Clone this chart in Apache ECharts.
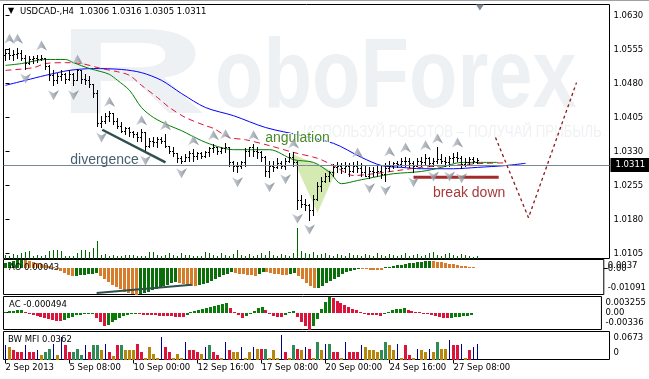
<!DOCTYPE html>
<html><head><meta charset="utf-8">
<script src="https://cdn.jsdelivr.net/npm/echarts@6/dist/echarts.min.js"></script>
<style>html,body{margin:0;padding:0;background:#fff;}#c{width:649px;height:379px;}</style>
</head><body><div id="c"></div>
<script>
// ---------- data ----------
const barOpen = [
1.0542,1.0548,1.0542,1.0546,1.0548,1.0537,1.0526,1.0535,1.0537,1.0535,
1.0537,1.0518,1.0498,1.0487,1.0496,1.0500,1.0491,1.0502,1.0487,1.0509,
1.0491,1.0487,1.0478,1.0460,1.0394,1.0398,1.0409,1.0414,1.0398,1.0387,
1.0376,1.0381,1.0374,1.0368,1.0363,1.0374,1.0343,1.0354,1.0350,1.0357,
1.0354,1.0343,1.0332,1.0326,1.0315,1.0310,1.0319,1.0326,1.0321,1.0326,
1.0321,1.0328,1.0337,1.0339,1.0332,1.0337,1.0341,1.0306,1.0299,1.0297,
1.0306,1.0332,1.0339,1.0332,1.0328,1.0317,1.0288,1.0299,1.0295,1.0304,
1.0299,1.0310,1.0317,1.0306,1.0222,1.0215,1.0211,1.0200,1.0226,1.0255,
1.0266,1.0275,1.0284,1.0295,1.0299,1.0293,1.0297,1.0288,1.0299,1.0293,
1.0284,1.0277,1.0288,1.0284,1.0288,1.0280,1.0293,1.0299,1.0304,1.0302,
1.0308,1.0310,1.0304,1.0297,1.0310,1.0306,1.0315,1.0304,1.0308,1.0313,
1.0308,1.0306,1.0315,1.0319,1.0315,1.0302,1.0306,1.0313,1.0306];
const barHigh = [
1.0557,1.0559,1.0553,1.0559,1.0553,1.0542,1.0540,1.0540,1.0542,1.0544,
1.0537,1.0520,1.0509,1.0504,1.0509,1.0504,1.0509,1.0504,1.0513,1.0509,
1.0500,1.0496,1.0478,1.0465,1.0409,1.0416,1.0420,1.0416,1.0405,1.0396,
1.0385,1.0383,1.0376,1.0374,1.0379,1.0374,1.0359,1.0363,1.0361,1.0363,
1.0368,1.0343,1.0341,1.0326,1.0321,1.0324,1.0332,1.0335,1.0330,1.0328,
1.0332,1.0341,1.0346,1.0341,1.0341,1.0348,1.0341,1.0310,1.0306,1.0310,
1.0337,1.0341,1.0346,1.0339,1.0332,1.0321,1.0310,1.0310,1.0315,1.0310,
1.0315,1.0326,1.0328,1.0310,1.0233,1.0226,1.0215,1.0233,1.0262,1.0273,
1.0282,1.0288,1.0302,1.0306,1.0304,1.0306,1.0304,1.0306,1.0308,1.0304,
1.0297,1.0295,1.0295,1.0299,1.0299,1.0304,1.0310,1.0306,1.0308,1.0315,
1.0319,1.0315,1.0310,1.0315,1.0317,1.0324,1.0317,1.0315,1.0339,1.0324,
1.0319,1.0321,1.0326,1.0330,1.0321,1.0315,1.0317,1.0317,1.0316];
const barLow = [
1.0531,1.0535,1.0531,1.0537,1.0531,1.0513,1.0524,1.0526,1.0528,1.0531,
1.0513,1.0487,1.0476,1.0482,1.0487,1.0482,1.0487,1.0476,1.0487,1.0482,
1.0480,1.0473,1.0451,1.0387,1.0383,1.0394,1.0398,1.0390,1.0381,1.0372,
1.0368,1.0365,1.0361,1.0354,1.0354,1.0332,1.0339,1.0343,1.0341,1.0348,
1.0339,1.0326,1.0321,1.0306,1.0304,1.0308,1.0310,1.0310,1.0313,1.0315,
1.0317,1.0321,1.0328,1.0324,1.0326,1.0328,1.0299,1.0288,1.0284,1.0293,
1.0299,1.0321,1.0321,1.0315,1.0310,1.0277,1.0273,1.0288,1.0293,1.0293,
1.0291,1.0306,1.0299,1.0204,1.0207,1.0200,1.0180,1.0189,1.0222,1.0244,
1.0262,1.0266,1.0275,1.0284,1.0282,1.0284,1.0277,1.0284,1.0284,1.0275,
1.0275,1.0271,1.0275,1.0277,1.0271,1.0266,1.0288,1.0293,1.0295,1.0297,
1.0299,1.0295,1.0284,1.0297,1.0299,1.0302,1.0299,1.0297,1.0304,1.0304,
1.0299,1.0297,1.0306,1.0310,1.0293,1.0297,1.0302,1.0304,1.0305];
const barClose = [
1.0548,1.0542,1.0546,1.0548,1.0537,1.0526,1.0535,1.0537,1.0535,1.0537,
1.0518,1.0498,1.0487,1.0496,1.0500,1.0491,1.0502,1.0487,1.0509,1.0491,
1.0487,1.0478,1.0460,1.0394,1.0398,1.0409,1.0414,1.0398,1.0387,1.0376,
1.0381,1.0374,1.0368,1.0363,1.0374,1.0343,1.0354,1.0350,1.0357,1.0354,
1.0343,1.0332,1.0326,1.0315,1.0310,1.0319,1.0326,1.0321,1.0326,1.0321,
1.0328,1.0337,1.0339,1.0332,1.0337,1.0341,1.0306,1.0299,1.0297,1.0306,
1.0332,1.0339,1.0332,1.0328,1.0317,1.0288,1.0299,1.0295,1.0304,1.0299,
1.0310,1.0317,1.0306,1.0222,1.0215,1.0211,1.0200,1.0226,1.0255,1.0266,
1.0275,1.0284,1.0295,1.0299,1.0293,1.0297,1.0288,1.0299,1.0293,1.0284,
1.0277,1.0288,1.0284,1.0288,1.0280,1.0293,1.0299,1.0304,1.0302,1.0308,
1.0310,1.0304,1.0297,1.0310,1.0306,1.0315,1.0304,1.0308,1.0313,1.0308,
1.0306,1.0315,1.0319,1.0315,1.0302,1.0306,1.0313,1.0308,1.0311];
const tickVolume = [
400,300,500,400,600,700,800,300,400,300,
400,800,900,900,800,300,300,300,600,900,
900,700,1100,1800,400,500,300,400,300,300,
400,400,400,300,300,300,700,700,400,300,
400,600,400,300,600,400,400,300,300,300,
700,600,400,300,600,400,300,500,900,400,
300,500,300,400,600,400,800,400,300,500,
400,300,600,3100,800,600,500,700,400,500,
600,400,300,500,400,300,600,400,400,300,
500,400,300,600,400,300,500,400,300,400,
600,300,400,500,300,400,600,700,400,300,
500,600,400,300,500,400,300,200,300];
// Alligator lines (bar index, price)
const jawLine = [[0,1.0476],[5,1.0487],[10,1.0498],[16,1.0509],[22,1.0513],[29,1.0511],[34,1.0504],[39,1.0487],[44,1.0458],[50,1.0427],[57,1.0409],[65,1.0383],[74,1.0365],[82,1.0348],[89,1.0317],[94,1.0299],[99,1.0295],[104,1.0292],[112,1.0292],[118,1.0295],[125,1.0299],[130,1.0304]];
const teethLine = [[0,1.0509],[7,1.0515],[10,1.0524],[15,1.0526],[19,1.0524],[24,1.0513],[28,1.0506],[31,1.0498],[34,1.0476],[38,1.0449],[41,1.0427],[45,1.0405],[50,1.0387],[52,1.0381],[56,1.0361],[60,1.0356],[66,1.0343],[72,1.0328],[78,1.0315],[82,1.0299],[87,1.0277],[92,1.0281],[98,1.0288],[104,1.0295],[114,1.0301],[120,1.0304],[125,1.0305]];
const lipsLine = [[0,1.0520],[4,1.0524],[10,1.0533],[15,1.0533],[17,1.0526],[21,1.0513],[24,1.0506],[26,1.0500],[28,1.0487],[31,1.0465],[34,1.0427],[37,1.0405],[41,1.0387],[44,1.0376],[49,1.0354],[53,1.0341],[57,1.0334],[66,1.0334],[72,1.0312],[77,1.0306],[81,1.0284],[84,1.0259],[88,1.0266],[92,1.0273],[97,1.0281],[104,1.0286],[109,1.0295],[114,1.0306],[123,1.0306]];
const upFractals = [1,3,9,18,26,34,40,47,52,55,62,72,88,96,100,105,108,113];
const downFractals = [5,12,17,24,35,44,58,66,70,73,76,91,95,102,107,111,114];
const aoValues = [
0.0024,0.0028,0.0032,0.0035,0.0037,0.0035,0.0032,0.0028,0.0024,0.0019,
0.0014,0.0009,0.0004,-0.0002,-0.0010,-0.0018,-0.0026,-0.0033,-0.0031,
-0.0029,-0.0027,-0.0025,-0.0023,-0.0021,
-0.0030,-0.0045,-0.0058,-0.0068,-0.0078,-0.0087,-0.0097,-0.0103,-0.0107,-0.01091,
-0.0106,-0.0102,-0.0097,-0.0092,-0.0086,-0.0080,-0.0074,-0.0068,-0.0063,-0.0059,
-0.0062,-0.0066,-0.0070,-0.0072,-0.0074,
-0.0071,-0.0066,-0.0060,-0.0053,-0.0045,-0.0037,-0.0029,-0.0022,-0.0016,
-0.0019,-0.0022,-0.0025,-0.0027,-0.0029,-0.0030,
-0.0022,-0.0015,
-0.0017,-0.0020,-0.0022,-0.0024,-0.0026,-0.0027,
-0.0024,-0.0021,
-0.0030,-0.0045,-0.0060,-0.0072,-0.0082,
-0.0080,-0.0072,-0.0063,-0.0053,-0.0043,-0.0034,-0.0025,-0.0017,-0.0010,-0.0005,-0.0002,
-0.0003,-0.0004,-0.0005,-0.0006,-0.0007,-0.0008,
0.0002,0.0005,0.0009,0.0012,0.0015,0.0018,0.0021,0.0024,0.0026,0.0028,0.0030,0.0031,
0.0030,0.0028,0.0026,0.0023,0.0020,0.0017,0.0014,0.0011,0.0008,0.0006,0.00043];
const acValues = [
0.0002,0.0003,0.0004,0.0005,0.0006,
0.0002,-0.0002,-0.0005,-0.0007,-0.0009,-0.0011,
-0.0012,-0.0014,-0.0016,-0.0017,
-0.0014,-0.0011,-0.0008,-0.0005,
-0.0004,-0.0003,-0.0002,-0.0001,
-0.0010,-0.0018,-0.0026,
-0.0024,-0.0019,-0.0014,
-0.0010,-0.0007,-0.0005,-0.0003,-0.0002,
-0.0003,-0.0004,-0.0004,-0.0005,-0.0005,-0.0006,-0.0006,-0.0007,-0.0007,-0.0008,-0.0008,-0.0009,
-0.0004,0.0001,0.0004,
0.0006,0.0008,0.0010,0.0012,0.0014,0.0016,0.0018,0.0019,
0.0010,0.0002,-0.0005,-0.0010,
-0.0007,-0.0002,0.0004,0.0009,0.0012,
0.0005,-0.0002,-0.0006,-0.0008,-0.0009,
-0.0004,0.0001,0.0004,
-0.0008,-0.0018,-0.0027,-0.00336,
-0.0026,-0.0012,
0.0008,0.0022,0.003255,
0.0029,0.0024,0.0019,0.0015,0.0011,0.0008,0.0005,
0.0001,-0.0002,-0.0004,-0.0005,-0.0005,-0.0006,
-0.0002,0.0002,0.0005,0.0007,0.0008,0.0009,
0.0006,0.0004,0.0002,0.0000,-0.0002,-0.0003,-0.0005,
-0.0007,-0.0009,-0.0010,-0.0011,
-0.0010,-0.0009,-0.0008,-0.0007,-0.0006,-0.000494];
const mfiValues = [
0.036,0.029,0.022,0.017,0.017,0.036,0.019,0.017,0.022,0.010,
0.019,0.026,0.038,0.012,0.055,0.036,0.017,0.017,0.026,0.012,
0.036,0.019,0.034,0.034,0.024,0.038,0.017,0.008,0.036,0.036,
0.024,0.024,0.022,0.038,0.019,0.004,0.029,0.014,0.004,0.055,
0.029,0.017,0.004,0.014,0.004,0.043,0.022,0.022,0.017,0.014,
0.029,0.036,0.017,0.012,0.004,0.041,0.022,0.017,0.017,0.029,
0.004,0.017,0.031,0.026,0.026,0.026,0.004,0.024,0.004,0.058,
0.017,0.004,0.036,0.026,0.022,0.029,0.026,0.004,0.041,0.024,
0.038,0.038,0.017,0.017,0.004,0.041,0.019,0.019,0.017,0.034,
0.029,0.024,0.022,0.017,0.022,0.043,0.034,0.022,0.038,0.004,
0.036,0.012,0.004,0.026,0.024,0.017,0.026,0.019,0.041,0.026,
0.026,0.048,0.034,0.034,0.038,0.004,0.024,0.029,0.0362];
// BW MFI state per bar: G = green, B = fade, F = fake, S = squat
const mfiState = ['FBSSSFSSFB','GGFBFSSGGG','FSGGBFSBSG','BBBSSBBBBF','SSBBBFSSSB',
  'FGSSBFSBBF','BBFBSGBBBF','SBGSBFSBGB','FGSSBFSSSF','BBBBGGBBFB','SSBFBBFBGB','BFSSFBSFF'].join('').split('');
const priceTicks = [1.0105,1.0180,1.0255,1.0330,1.0405,1.0480,1.0555,1.0630];
const bidPrice = 1.0311;
const aoTicks = [0.0037,-0.01091], aoTickText = ['0.0037','-0.01091'];
const aoZeroTick = [0], aoZeroText = ['0.00'];
const acTicks = [0.003255,0,-0.00336], acTickText = ['0.003255','0.00','-0.00336'];
const mfiTicks = [0.0673,0], mfiTickText = ['0.0673','0'];
const xTickIdx = [0,16,32,48,64,80,96,112];
const xTickLabels = ['2 Sep 2013','5 Sep 08:00','10 Sep 00:00','12 Sep 16:00','17 Sep 08:00','20 Sep 00:00','24 Sep 16:00','27 Sep 08:00'];
// annotations
const priceDivergence = [[24.2,1.0378],[40,1.0306]];
const aoDivergence = [[23,-0.0103],[47,-0.0068]];
const angulationTri = [[71.25,1.0326],[82.5,1.0284],[78,1.0195]];
const breakDownLine = [[102,1.0273],[123.3,1.0273]];
const forecastPath = [[122.5,1.0361],[130.75,1.0184],[142.75,1.0482]];
const notes = [
  {text:'divergence', at:[24.75,1.0311]},
  {text:'angulation', at:[73,1.0360]},
  {text:'break down', at:[115.9,1.0238]}
];

// ---------- chart ----------
const FONT = "'DejaVu Sans'";
const chart = echarts.init(document.getElementById('c'), null, {renderer:'canvas'});
const N = barClose.length;
const candles = barClose.map((c,i)=>[i,barOpen[i],barHigh[i],barLow[i],c]);

function hist(colorOf, widthOf){
  return (params, api) => {
    const i = api.value(0), v = api.value(1);
    const p0 = api.coord([i,0]), p1 = api.coord([i,v]);
    const w = widthOf(params.dataIndex);
    const cx = Math.floor(p0[0]);
    const x = w >= 3 ? cx - 1 : cx;
    const y0 = Math.round(p0[1]), y1 = Math.round(p1[1]);
    let top = Math.min(y0,y1), h = Math.abs(y1-y0);
    if (h < 1) { h = 1; top = v < 0 ? y0 : y0 - 1; }
    return {type:'rect', shape:{x:x, y:top, width:w, height:h}, style:{fill:colorOf(params.dataIndex)}};
  };
}
function sideLabels(ticks, texts, edges){
  return {
    show:true, customValues:ticks, margin:4, align:'left', showMinLabel:true, showMaxLabel:true, hideOverlap:false,
    formatter:(v)=>{
      const k = ticks.findIndex(t=>Math.abs(t-v)<1e-9);
      if (k<0) return '';
      const tag = !edges ? 'm' : (k===0 ? 't' : (k===ticks.length-1 ? 'b' : 'm'));
      return '{'+tag+'|'+texts[k]+'}';
    },
    rich:{
      t:{fontFamily:FONT,fontSize:8.5,color:'#000',padding:[13,0,0,0]},
      b:{fontFamily:FONT,fontSize:8.5,color:'#000',padding:[0,0,13,0]},
      m:{fontFamily:FONT,fontSize:8.5,color:'#000'}
    }
  };
}
const gridBase = {left:3.5, width:606, show:true, borderColor:'#000', borderWidth:1, backgroundColor:'transparent'};
const xBase = {type:'value', min:-0.5, max:151, show:false, splitLine:{show:false}};
const fractalFill = {type:'linear', x:0, y:0, x2:1, y2:0, colorStops:[{offset:0,color:'#c3cad2'},{offset:0.5,color:'#9aa3ad'},{offset:1,color:'#6c7682'}]};
const mfiColor = {G:'#2e8b57', B:'#b8860b', F:'#00008b', S:'#dc143c'};
const last = N-1;

const option = {
  animation:false,
  backgroundColor:'#fff',
  textStyle:{fontFamily:FONT},
  title:[
    {text:'\u25BC', left:8, top:7, padding:0, textStyle:{fontFamily:FONT,fontSize:8,fontWeight:'normal',color:'#000'}},
    {text:'USDCAD-,H4  '+[barOpen[last],barHigh[last],barLow[last],barClose[last]].map(v=>v.toFixed(4)).join(' '),
     left:20, top:7.5, padding:0, textStyle:{fontFamily:FONT,fontSize:8.5,fontWeight:'normal',color:'#000'}},
    {text:'AO '+aoValues[last], left:9, top:263, padding:0, textStyle:{fontFamily:FONT,fontSize:8.5,fontWeight:'normal',color:'#000'}},
    {text:'AC '+acValues[last], left:9, top:300, padding:0, textStyle:{fontFamily:FONT,fontSize:8.5,fontWeight:'normal',color:'#000'}},
    {text:'BW MFI '+mfiValues[last], left:8, top:335, padding:0, textStyle:{fontFamily:FONT,fontSize:8.5,fontWeight:'normal',color:'#000'}}
  ],
  graphic:[
    {type:'rect', shape:{x:0,y:0,width:649,height:1}, style:{fill:'#a0a0a0'}, z:-5},
    {type:'text', x:57, y:79, scaleX:1.7, z:-5, silent:true,
     style:{text:'R', font:"bold 122px 'Liberation Sans'", fill:'#eef1f4', verticalAlign:'middle'}},
    {type:'text', x:215, y:80, scaleX:0.81, z:-5, silent:true,
     style:{text:'oboForex', font:"bold 98px 'Liberation Sans'", fill:'#eef1f4', verticalAlign:'middle'}},
    {type:'text', x:303, y:133, scaleX:0.83, z:-5, silent:true,
     style:{text:'ИСПОЛЬЗУЙ РОБОТОВ – ПОЛУЧАЙ ПРИБЫЛЬ', font:"16px 'Liberation Sans'", fill:'#eff1f4', verticalAlign:'middle'}}
  ],
  grid:[
    Object.assign({top:4.5, height:254}, gridBase),
    Object.assign({top:259.5, height:35}, gridBase),
    Object.assign({top:296.5, height:33}, gridBase),
    Object.assign({top:331.5, height:28}, gridBase)
  ],
  xAxis:[
    Object.assign({gridIndex:0}, xBase),
    Object.assign({gridIndex:1}, xBase),
    Object.assign({gridIndex:2}, xBase),
    Object.assign({}, xBase, {gridIndex:3, show:true,
      axisLine:{show:false},
      axisTick:{show:true, customValues:xTickIdx, length:4, lineStyle:{color:'#000'}},
      axisLabel:{show:true, customValues:xTickIdx, align:'left', margin:4, fontFamily:FONT, fontSize:8.5, color:'#000',
        formatter:(v)=>{const k=xTickIdx.indexOf(Math.round(v)); return k<0?'':xTickLabels[k];}}
    })
  ],
  yAxis:[
    {gridIndex:0, type:'value', position:'right', min:1.00940, max:1.06543, splitLine:{show:false},
     axisLine:{show:false}, axisTick:{show:true, customValues:priceTicks, length:4, lineStyle:{color:'#000'}},
     axisLabel:{show:true, customValues:priceTicks, margin:4, align:'left', fontFamily:FONT, fontSize:8.5, color:'#000',
       formatter:(v)=>v.toFixed(4)}},
    {gridIndex:0, type:'value', position:'left', min:0, max:25400, show:false, splitLine:{show:false}},
    {gridIndex:1, type:'value', position:'right', offset:0, min:-0.01091, max:0.0037, splitLine:{show:false}, axisLine:{show:false},
     axisTick:{show:true, customValues:aoTicks, length:4, lineStyle:{color:'#000'}}, axisLabel:sideLabels(aoTicks, aoTickText, true)},
    {gridIndex:2, type:'value', position:'right', min:-0.00336, max:0.003255, splitLine:{show:false}, axisLine:{show:false},
     axisTick:{show:true, customValues:acTicks, length:4, lineStyle:{color:'#000'}}, axisLabel:sideLabels(acTicks, acTickText, true)},
    {gridIndex:3, type:'value', position:'right', min:0, max:0.0673, splitLine:{show:false}, axisLine:{show:false},
     axisTick:{show:true, customValues:mfiTicks, length:4, lineStyle:{color:'#000'}}, axisLabel:sideLabels(mfiTicks, mfiTickText, true)},
    {gridIndex:1, type:'value', position:'right', offset:0, min:-0.01091, max:0.0037, splitLine:{show:false}, axisLine:{show:false},
     axisTick:{show:true, customValues:aoZeroTick, length:4, lineStyle:{color:'#000'}}, axisLabel:sideLabels(aoZeroTick, aoZeroText, false)}
  ],
  series:[
    {type:'custom', name:'angulation zone', xAxisIndex:0, yAxisIndex:0, z:1, silent:true,
     data:[angulationTri[0]], encode:{x:0,y:1},
     renderItem:(p,api)=>({type:'polygon', shape:{points:angulationTri.map(pt=>api.coord(pt))}, style:{fill:'#d5e9b3'}})},
    {type:'custom', name:'Volume', xAxisIndex:0, yAxisIndex:1, z:2, silent:true,
     data:tickVolume.map((v,i)=>[i,v]), encode:{x:0,y:1}, renderItem:hist(()=>'#006400', ()=>1)},
    {type:'line', name:'Jaw', xAxisIndex:0, yAxisIndex:0, data:jawLine, showSymbol:false, smooth:0.3, z:3,
     lineStyle:{color:'#0000ff', width:1}},
    {type:'line', name:'Teeth', xAxisIndex:0, yAxisIndex:0, data:teethLine, showSymbol:false, smooth:0.3, z:3,
     lineStyle:{color:'#dc143c', width:1, type:[6,4]}},
    {type:'line', name:'Lips', xAxisIndex:0, yAxisIndex:0, data:lipsLine, showSymbol:false, smooth:0.3, z:3,
     lineStyle:{color:'#008000', width:1}},
    {type:'custom', name:'USDCAD', xAxisIndex:0, yAxisIndex:0, z:4, silent:true,
     data:candles, encode:{x:0, y:[1,2,3,4]},
     renderItem:(params, api)=>{
       const i = api.value(0);
       const o = api.coord([i,api.value(1)]), h = api.coord([i,api.value(2)]);
       const l = api.coord([i,api.value(3)]), c = api.coord([i,api.value(4)]);
       const cx = Math.floor(o[0]);
       const yo = Math.round(o[1])+0.5, yc = Math.round(c[1])+0.5;
       const st = {stroke:'#000', lineWidth:1};
       return {type:'group', children:[
         {type:'line', shape:{x1:cx+0.5, y1:Math.round(h[1]), x2:cx+0.5, y2:Math.round(l[1])+1}, style:st},
         {type:'line', shape:{x1:cx-1, y1:yo, x2:cx, y2:yo}, style:st},
         {type:'line', shape:{x1:cx+1, y1:yc, x2:cx+2, y2:yc}, style:st}
       ]};
     }},
    {type:'line', name:'price divergence', xAxisIndex:0, yAxisIndex:0, data:priceDivergence, showSymbol:false, z:5,
     lineStyle:{color:'#2f4f4f', width:2.5}},
    {type:'line', name:'break down', xAxisIndex:0, yAxisIndex:0, data:breakDownLine, showSymbol:false, z:5,
     lineStyle:{color:'#a52a2a', width:3}},
    {type:'scatter', name:'Fractals up', xAxisIndex:0, yAxisIndex:0, z:6, silent:true,
     data:upFractals.map(i=>[i,barHigh[i]]),
     symbol:'path://M5.5,0 L11,10 L5.5,7 L0,10 Z', symbolSize:[11,10], symbolOffset:[0,-9],
     itemStyle:{color:fractalFill}},
    {type:'scatter', name:'Fractals down', xAxisIndex:0, yAxisIndex:0, z:6, silent:true,
     data:downFractals.map(i=>[i,barLow[i]]),
     symbol:'path://M0,0 L5.5,3 L11,0 L5.5,10 Z', symbolSize:[11,10], symbolOffset:[0,10],
     itemStyle:{color:fractalFill}},
    {type:'line', name:'forecast', xAxisIndex:0, yAxisIndex:0, data:forecastPath, showSymbol:false, z:6,
     lineStyle:{color:'#8b1a1a', width:1.3, type:[3,3]},
     markLine:{silent:true, symbol:['none','none'], animation:false,
       data:[{yAxis:bidPrice}],
       lineStyle:{color:'#778899', width:1, type:'solid'},
       label:{show:true, position:'end', distance:1, formatter:bidPrice.toFixed(4),
         backgroundColor:'#000', color:'#fff', padding:[3,5,2,5], fontFamily:FONT, fontSize:8.5}},
     markPoint:{silent:true, animation:false,
       data:[
         ...notes.map((n,k)=>({coord:n.at, symbol:'circle', symbolSize:1, itemStyle:{color:'rgba(0,0,0,0)'},
           label:{show:true, position:'inside', formatter:n.text, fontFamily:"'Liberation Sans'", fontSize:14,
             color:['#475f6e','#4a8a2a','#a83a3a'][k],
             textBorderColor:k===1?'rgba(255,255,255,0.9)':'transparent', textBorderWidth:k===1?2:0}})),
         {coord:[118.6,1.06543], symbol:'triangle', symbolRotate:180, symbolSize:[8,6], symbolOffset:[0,3],
          itemStyle:{color:'#7d8a97'}, label:{show:false}}
       ]}},
    {type:'custom', name:'AO', xAxisIndex:1, yAxisIndex:2, silent:true,
     data:aoValues.map((v,i)=>[i,v]), encode:{x:0,y:1},
     renderItem:hist(i=>(i===0||aoValues[i]>aoValues[i-1])?'#0a6e0a':'#d67d2c', ()=>3)},
    {type:'line', name:'AO divergence', xAxisIndex:1, yAxisIndex:2, data:aoDivergence, showSymbol:false, z:5,
     lineStyle:{color:'#2f4f4f', width:2}},
    {type:'custom', name:'AC', xAxisIndex:2, yAxisIndex:3, silent:true,
     data:acValues.map((v,i)=>[i,v]), encode:{x:0,y:1},
     renderItem:hist(i=>(i===0||acValues[i]>acValues[i-1])?'#0a7a0a':'#dc143c', ()=>3)},
    {type:'custom', name:'BW MFI', xAxisIndex:3, yAxisIndex:4, silent:true,
     data:mfiValues.map((v,i)=>[i,v]), encode:{x:0,y:1},
     renderItem:hist(i=>mfiColor[mfiState[i]], i=>mfiState[i]==='F'?1:3)}
  ]
};
chart.setOption(option);
</script></body></html>
